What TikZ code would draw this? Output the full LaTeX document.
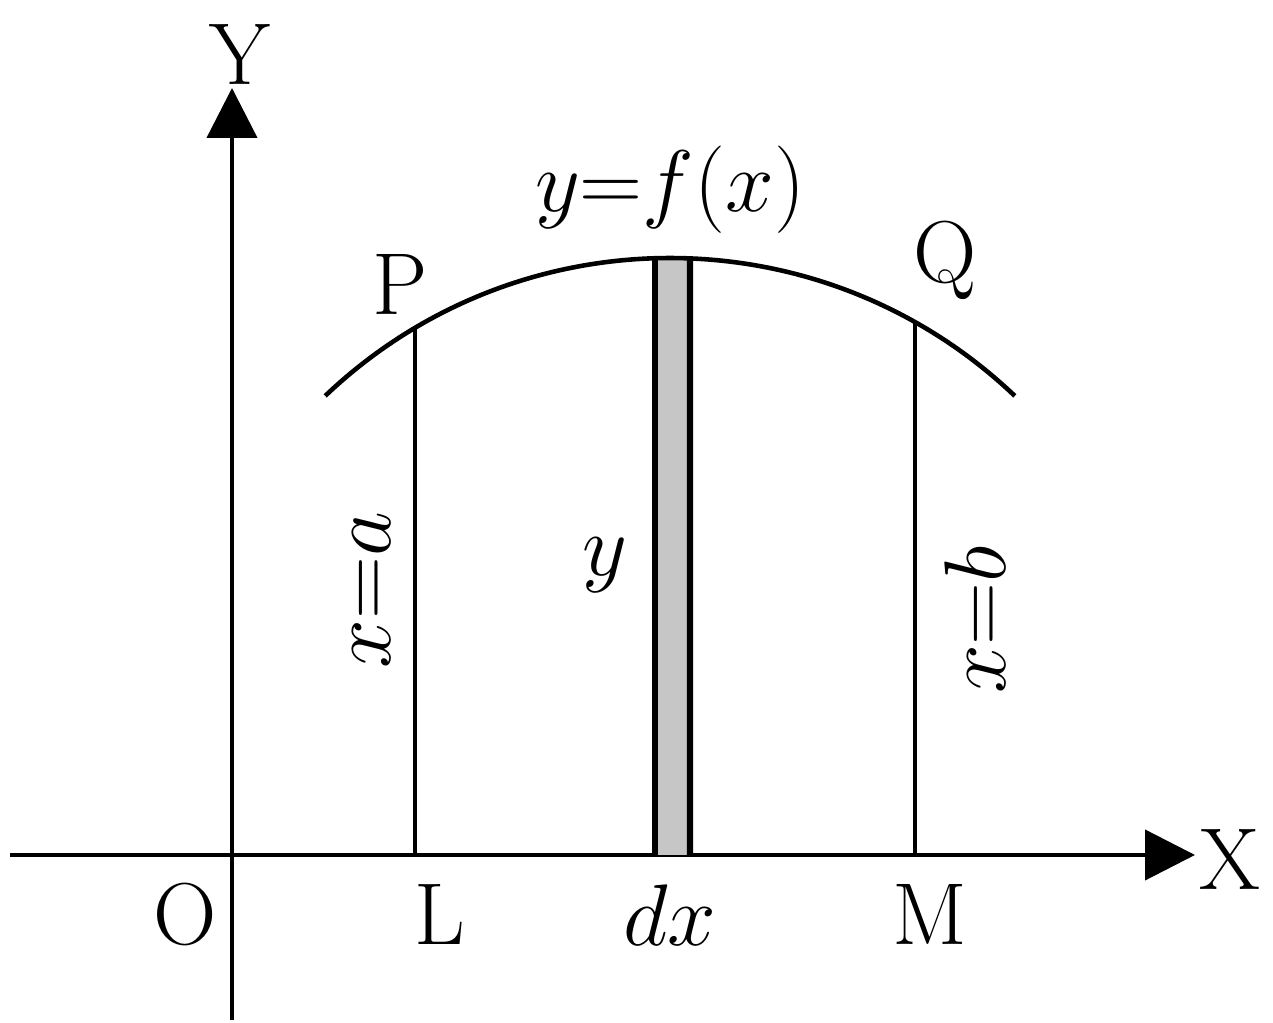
\documentclass[tikz,border=0pt]{standalone}
\usepackage{amsmath}
\usepackage{tikz}
\usetikzlibrary{arrows.meta,calc}

\begin{document}
\begin{tikzpicture}[
  lbl/.style={font=\fontsize{25}{30}\selectfont, inner sep=1pt},
  axis/.style={line width=1.2pt, -{Triangle[length=5mm, width=5mm]}},
  ord/.style={line width=1.1pt},
  curve/.style={line width=1.3pt}]
\useasboundingbox (0,0) rectangle (12.73,10.23);
% axes
\coordinate (O) at (2.32,1.68);
\coordinate (xs) at (0.10,1.68);
\coordinate (xe) at (11.95,1.68);
\coordinate (ys) at (2.32,0.03);
\coordinate (ye) at (2.32,9.35);
\draw[axis] (xs) -- (xe);
\draw[axis] (ys) -- (ye);
% curve y=f(x), circle centre c, radius 5
\coordinate (c) at (6.70,2.65);
\coordinate (P) at ($(c)+(120.66:5)$);
\coordinate (Q) at ($(c)+(60.66:5)$);
\coordinate (L) at (4.15,1.68);
\coordinate (M) at (9.15,1.68);
\coordinate (s1) at ($(c)+(91.72:5)$);
\coordinate (s2) at ($(c)+(87.71:5)$);
\coordinate (s1b) at (6.55,1.68);
\coordinate (s2b) at (6.90,1.68);
% strip
\fill[gray!45] (s1b) -- (s1) arc[start angle=91.72, end angle=87.71, radius=5] -- (s2b) -- cycle;
\draw[line width=1.8pt] (s1b) -- (s1);
\draw[line width=1.8pt] (s2b) -- (s2);
\draw[curve] ($(c)+(133.6:5)$) arc[start angle=133.6, end angle=46.4, radius=5];
\draw[ord] (L) -- (P);
\draw[ord] (M) -- (Q);
% labels
\node[lbl] (ylab) at (2.40,9.68) {Y};
\node[lbl] (xlab) at (12.30,1.63) {X};
\node[lbl] (olab) at (1.85,1.08) {O};
\node[lbl] (llab) at (4.40,1.08) {L};
\node[lbl] (dxlab) at (6.70,1.08) {$dx$};
\node[lbl] (mlab) at (9.30,1.08) {M};
\node[lbl] (plab) at (4.00,7.38) {P};
\node[lbl] (qlab) at (9.45,7.63) {Q};
\node[lbl] (flab) at (6.70,8.33) {$y{=}f(x)$};
\node[lbl] (ylen) at (6.05,4.58) {$y$};
\node[lbl, rotate=90] (alab) at (3.72,4.33) {$x{=}a$};
\node[lbl, rotate=90] (blab) at (9.75,4.03) {$x{=}b$};
\end{tikzpicture}
\end{document}
